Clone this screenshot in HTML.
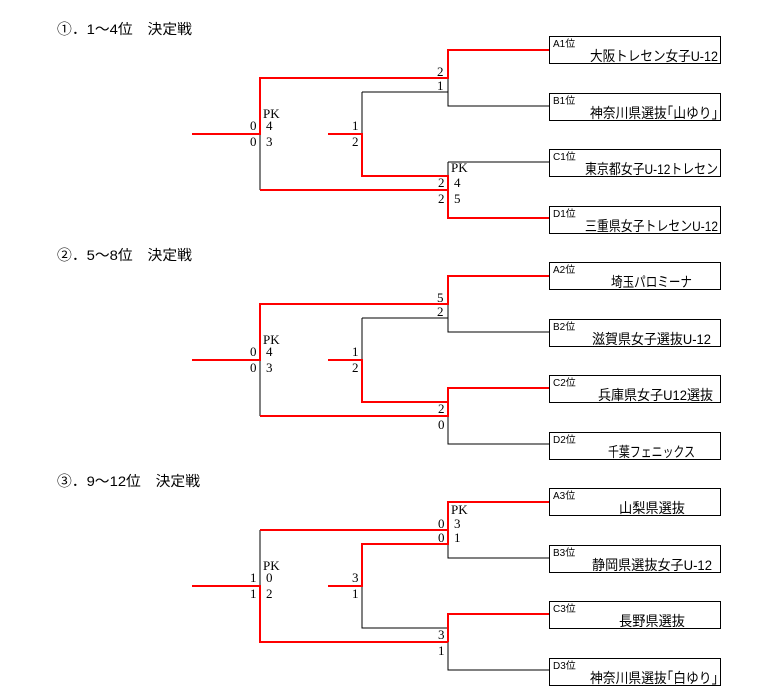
<!DOCTYPE html>
<html><head><meta charset="utf-8"><style>
html,body{margin:0;padding:0;background:#fff;}
svg{display:block;}
.t{font-family:"Liberation Sans","Noto Sans CJK JP",sans-serif;font-size:14px;fill:#000;}
.l{font-family:"Liberation Sans","Noto Sans CJK JP",sans-serif;font-size:10px;fill:#000;}
.n{font-family:"Liberation Sans","Noto Sans CJK JP",sans-serif;font-size:14px;fill:#000;}
.d{font-family:"Liberation Serif","Noto Serif CJK SC",serif;font-size:13px;fill:#000;}
.b{stroke:#000;stroke-width:1;fill:none;}
.r{stroke:#f00;stroke-width:2;fill:none;}
</style></head><body>
<svg width="774" height="692" xmlns="http://www.w3.org/2000/svg" shape-rendering="crispEdges">
<!-- Bracket 1 -->
<g>
<text class="t" x="57" y="34" textLength="135" lengthAdjust="spacingAndGlyphs">①．1～4位　決定戦</text>
<rect class="b" x="549.5" y="36.5" width="171" height="27"/>
<rect class="b" x="549.5" y="93.5" width="171" height="27"/>
<rect class="b" x="549.5" y="149.5" width="171" height="27"/>
<rect class="b" x="549.5" y="206.5" width="171" height="27"/>
<text class="l" x="553" y="47">A1位</text><text class="n" x="590" y="61" textLength="128" lengthAdjust="spacingAndGlyphs">大阪トレセン女子U-12</text>
<text class="l" x="553" y="104">B1位</text><text class="n" x="590" y="118" textLength="128" lengthAdjust="spacingAndGlyphs">神奈川県選抜｢山ゆり｣</text>
<text class="l" x="553" y="160">C1位</text><text class="n" x="585" y="174" textLength="133" lengthAdjust="spacingAndGlyphs">東京都女子U-12トレセン</text>
<text class="l" x="553" y="217">D1位</text><text class="n" x="585" y="231" textLength="133" lengthAdjust="spacingAndGlyphs">三重県女子トレセンU-12</text>
<path class="b" d="M448 78V106H549M362 92H448M362 92V134M260 134V190M448 162H549M448 162V176"/>
<path class="r" d="M549 50H448V78H260V134H192M328 134H362V176H448V218H549M260 190H448"/>
<text class="d" x="437" y="76">2</text><text class="d" x="437" y="90">1</text>
<text class="d" x="263" y="118">PK</text><text class="d" x="250" y="130">0</text><text class="d" x="266" y="130">4</text><text class="d" x="250" y="146">0</text><text class="d" x="266" y="146">3</text>
<text class="d" x="352" y="130">1</text><text class="d" x="352" y="146">2</text>
<text class="d" x="451" y="172">PK</text><text class="d" x="438" y="187">2</text><text class="d" x="454" y="187">4</text><text class="d" x="438" y="203">2</text><text class="d" x="454" y="203">5</text>
</g>
<!-- Bracket 2 -->
<g transform="translate(0,226)">
<text class="t" x="57" y="34" textLength="135" lengthAdjust="spacingAndGlyphs">②．5～8位　決定戦</text>
<rect class="b" x="549.5" y="36.5" width="171" height="27"/>
<rect class="b" x="549.5" y="93.5" width="171" height="27"/>
<rect class="b" x="549.5" y="149.5" width="171" height="27"/>
<rect class="b" x="549.5" y="206.5" width="171" height="27"/>
<text class="l" x="553" y="47">A2位</text><text class="n" x="611" y="61" textLength="81" lengthAdjust="spacingAndGlyphs">埼玉パロミーナ</text>
<text class="l" x="553" y="104">B2位</text><text class="n" x="592" y="118" textLength="119" lengthAdjust="spacingAndGlyphs">滋賀県女子選抜U-12</text>
<text class="l" x="553" y="160">C2位</text><text class="n" x="598" y="174" textLength="115" lengthAdjust="spacingAndGlyphs">兵庫県女子U12選抜</text>
<text class="l" x="553" y="217">D2位</text><text class="n" x="608" y="231" textLength="87" lengthAdjust="spacingAndGlyphs">千葉フェニックス</text>
<path class="b" d="M448 78V106H549M362 92H448M362 92V134M260 134V190M448 190V218H549"/>
<path class="r" d="M549 50H448V78H260V134H192M328 134H362V176H448M549 162H448V190H260"/>
<text class="d" x="437" y="76">5</text><text class="d" x="437" y="90">2</text>
<text class="d" x="263" y="118">PK</text><text class="d" x="250" y="130">0</text><text class="d" x="266" y="130">4</text><text class="d" x="250" y="146">0</text><text class="d" x="266" y="146">3</text>
<text class="d" x="352" y="130">1</text><text class="d" x="352" y="146">2</text>
<text class="d" x="438" y="187">2</text><text class="d" x="438" y="203">0</text>
</g>
<!-- Bracket 3 -->
<g transform="translate(0,452)">
<text class="t" x="57" y="34" textLength="143" lengthAdjust="spacingAndGlyphs">③．9～12位　決定戦</text>
<rect class="b" x="549.5" y="36.5" width="171" height="27"/>
<rect class="b" x="549.5" y="93.5" width="171" height="27"/>
<rect class="b" x="549.5" y="149.5" width="171" height="27"/>
<rect class="b" x="549.5" y="206.5" width="171" height="27"/>
<text class="l" x="553" y="47">A3位</text><text class="n" x="619" y="61" textLength="66" lengthAdjust="spacingAndGlyphs">山梨県選抜</text>
<text class="l" x="553" y="104">B3位</text><text class="n" x="592" y="118" textLength="120" lengthAdjust="spacingAndGlyphs">静岡県選抜女子U-12</text>
<text class="l" x="553" y="160">C3位</text><text class="n" x="619" y="174" textLength="66" lengthAdjust="spacingAndGlyphs">長野県選抜</text>
<text class="l" x="553" y="217">D3位</text><text class="n" x="590" y="231" textLength="128" lengthAdjust="spacingAndGlyphs">神奈川県選抜｢白ゆり｣</text>
<path class="b" d="M448 92V106H549M260 78V134M362 134V176H448M448 190V218H549"/>
<path class="r" d="M549 50H448V92H362V134H328M448 78H260M192 134H260V190H448M549 162H448V190"/>
<text class="d" x="451" y="62">PK</text><text class="d" x="438" y="76">0</text><text class="d" x="454" y="76">3</text><text class="d" x="438" y="90">0</text><text class="d" x="454" y="90">1</text>
<text class="d" x="263" y="118">PK</text><text class="d" x="250" y="130">1</text><text class="d" x="266" y="130">0</text><text class="d" x="250" y="146">1</text><text class="d" x="266" y="146">2</text>
<text class="d" x="352" y="130">3</text><text class="d" x="352" y="146">1</text>
<text class="d" x="438" y="187">3</text><text class="d" x="438" y="203">1</text>
</g>
</svg>
</body></html>
